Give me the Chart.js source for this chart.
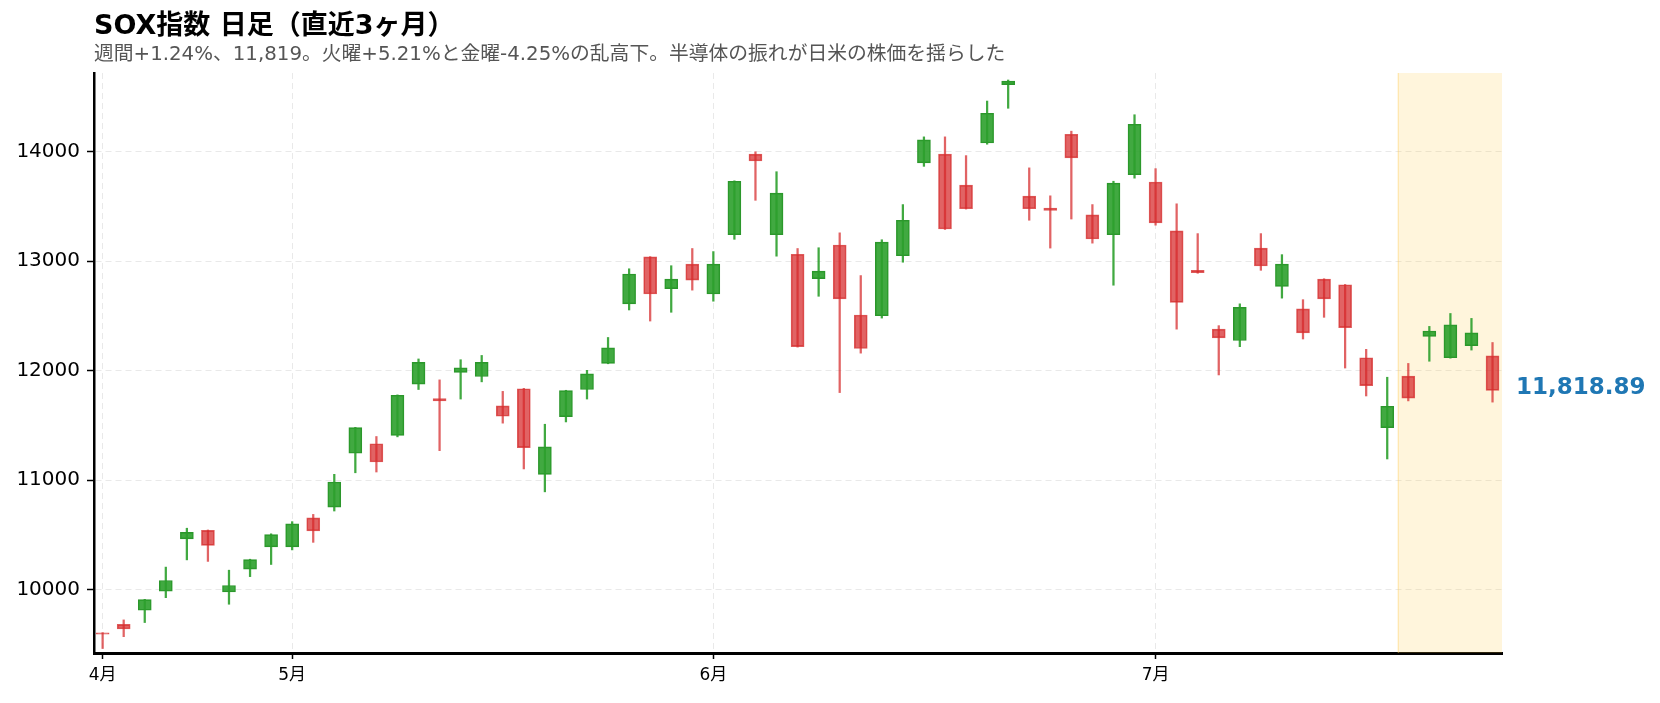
<!DOCTYPE html>
<html lang="ja">
<head>
<meta charset="utf-8">
<title>SOX指数 日足（直近3ヶ月）</title>
<script src="https://cdn.jsdelivr.net/npm/chart.js@4.4.1/dist/chart.umd.min.js"></script>
<style>
  html, body { margin: 0; padding: 0; background: #fff; }
  #wrap { width: 1660px; height: 703px; }
</style>
</head>
<body>
<div id="wrap"><canvas id="chart" width="1660" height="703"></canvas></div>
<script>
// 日足データ（4月〜7月、営業日順）
const opens  = [9606, 9683, 9812, 9986, 10464, 10541, 9979, 10188, 10391, 10391,
                10656, 10753, 11245, 11332, 11409, 11876, 11744, 11984, 11946, 11677,
                11834, 11053, 11580, 11827, 12065, 12609, 13037, 12748, 12971, 12699,
                13240, 13976, 13240, 13062, 12839, 13146, 12507, 12500, 13048, 13895,
                13976, 13693, 14077, 14610, 13592, 13484, 14157, 13421, 13240, 13787,
                13721, 13275, 12915, 12378, 12274, 13118, 12769, 12563, 12835, 12783,
                12117, 11479, 11949, 12312, 12117, 12228, 12134];
const highs  = [9608, 9724, 9912, 10206, 10561, 10545, 10178, 10278, 10510, 10621,
                10687, 11053, 11482, 11398, 11778, 12106, 11915, 12099, 12138, 11810,
                11838, 11510, 11820, 12002, 12302, 12929, 13040, 12957, 13114, 13086,
                13732, 13997, 13815, 13114, 13121, 13257, 12867, 13194, 13515, 14133,
                14133, 13962, 14460, 14652, 13850, 13595, 14185, 13515, 13728, 14335,
                13843, 13522, 13250, 12410, 12609, 13250, 13058, 12647, 12838, 12786,
                12194, 11939, 12065, 12403, 12521, 12476, 12256];
const lows   = [9463, 9571, 9700, 9927, 10272, 10258, 9867, 10119, 10230, 10363,
                10432, 10718, 11067, 11074, 11395, 11827, 11269, 11740, 11897, 11520,
                11102, 10893, 11531, 11740, 12062, 12553, 12452, 12532, 12734, 12633,
                13198, 13554, 13044, 12214, 12678, 11799, 12159, 12479, 12989, 13864,
                13288, 13474, 14066, 14394, 13372, 13118, 13383, 13163, 12779, 13756,
                13327, 12378, 12888, 11960, 12218, 12915, 12661, 12288, 12486, 12023,
                11768, 11193, 11723, 12085, 12113, 12187, 11712];
const closes = [9594, 9641, 9909, 10084, 10523, 10405, 10038, 10275, 10502, 10600,
                10537, 10983, 11479, 11165, 11775, 12075, 11722, 12026, 12075, 11583,
                11297, 11304, 11817, 11970, 12207, 12881, 12699, 12835, 12825, 12971,
                13728, 13913, 13620, 12218, 12908, 12654, 12201, 13173, 13372, 14105,
                13292, 13477, 14349, 14642, 13477, 13462, 13941, 13201, 13711, 14248,
                13348, 12622, 12893, 12298, 12577, 12954, 12971, 12344, 12654, 12392,
                11862, 11674, 11749, 12361, 12417, 12344, 11818.89];

// 月初の目盛り（データ上の位置）とラベル
const monthTickIdx = [0, 9, 29, 50];
const monthTickLabels = ["4月", "5月", "6月", "7月"];
const yTickValues = [10000, 11000, 12000, 13000, 14000];
const highlightFrom = 62; // 直近1週間

const titleText = "SOX指数 日足（直近3ヶ月）";
const subtitleText = "週間+1.24%、11,819。火曜+5.21%と金曜-4.25%の乱高下。半導体の振れが日米の株価を揺らした";

const UP_FILL = "rgba(44,160,44,0.9)";
const UP_LINE = "rgba(44,150,44,1)";
const DOWN_FILL = "rgba(214,39,40,0.72)";
const DOWN_LINE = "rgba(214,50,50,0.8)";

const isUp = opens.map((o, i) => closes[i] >= o);

const bodies = opens.map((o, i) => ({ x: i, y: [Math.min(o, closes[i]), Math.max(o, closes[i])] }));
const wicks = lows.map((l, i) => ({ x: i, y: [l, highs[i]] }));

// 見出し
const headerPlugin = {
  id: "header",
  afterDraw(chart) {
    const ctx = chart.ctx;
    ctx.save();
    ctx.textAlign = "left";
    ctx.textBaseline = "alphabetic";
    ctx.fillStyle = "#000";
    ctx.font = 'bold 27px "DejaVu Sans", "Noto Sans CJK JP"';
    ctx.fillText(titleText, 94, 34);
    ctx.fillStyle = "#555";
    ctx.font = '19.8px "DejaVu Sans", "Noto Sans CJK JP"';
    ctx.fillText(subtitleText, 94, 60);
    ctx.restore();
  }
};

// 直近1週間の帯
const bandPlugin = {
  id: "band",
  beforeDatasetsDraw(chart) {
    const { ctx, chartArea, scales } = chart;
    const x0 = scales.x.getPixelForValue(highlightFrom - 0.5);
    ctx.save();
    ctx.fillStyle = "rgba(255,200,60,0.18)";
    ctx.fillRect(x0, chartArea.top, chartArea.right - x0, chartArea.bottom - chartArea.top);
    ctx.strokeStyle = "rgba(255,205,90,0.45)";
    ctx.lineWidth = 1;
    ctx.beginPath();
    ctx.moveTo(x0 + 0.5, chartArea.top);
    ctx.lineTo(x0 + 0.5, chartArea.bottom);
    ctx.stroke();
    ctx.restore();
  }
};

// 最終値ラベル
const lastLabelPlugin = {
  id: "lastLabel",
  afterDatasetsDraw(chart) {
    const { ctx, chartArea, scales } = chart;
    const last = closes[closes.length - 1];
    const y = scales.y.getPixelForValue(last);
    ctx.save();
    ctx.fillStyle = "#1f77b4";
    ctx.font = 'bold 23px "DejaVu Sans"';
    ctx.textAlign = "left";
    ctx.textBaseline = "middle";
    ctx.fillText(last.toLocaleString("en-US", { minimumFractionDigits: 2 }), chartArea.right + 14, y - 2);
    ctx.restore();
  }
};

new Chart(document.getElementById("chart"), {
  type: "bar",
  data: {
    datasets: [
      {
        label: "実体",
        data: bodies,
        backgroundColor: isUp.map(u => (u ? UP_FILL : DOWN_FILL)),
        borderColor: isUp.map(u => (u ? UP_LINE : DOWN_LINE)),
        borderWidth: 1,
        borderSkipped: false,
        barThickness: 13,
        grouped: false,
        order: 0
      },
      {
        label: "ヒゲ",
        data: wicks,
        backgroundColor: isUp.map(u => (u ? UP_FILL : DOWN_FILL)),
        borderWidth: 0,
        barThickness: 1.6,
        grouped: false,
        order: 1
      }
    ]
  },
  options: {
    responsive: false,
    animation: false,
    devicePixelRatio: 1,
    layout: { padding: { left: 0, right: 158, top: 73, bottom: 0 } },
    plugins: {
      legend: { display: false },
      tooltip: { enabled: false }
    },
    scales: {
      x: {
        type: "linear",
        min: -0.41,
        max: 66.45,
        offset: false,
        afterBuildTicks: s => { s.ticks = monthTickIdx.map(v => ({ value: v })); },
        afterFit: s => { s.height = 50; },
        ticks: {
          callback: v => monthTickLabels[monthTickIdx.indexOf(v)],
          color: "#000",
          font: { family: '"DejaVu Sans", "Noto Sans CJK JP"', size: 17 },
          padding: 6,
          maxRotation: 0,
          autoSkip: false
        },
        grid: { offset: false, color: "#e9e9e9", lineWidth: 1, tickColor: "#000", tickLength: 6, tickWidth: 1.5 },
        border: { color: "#000", width: 3, dash: [6, 4] }
      },
      y: {
        min: 9422,
        max: 14716,
        afterBuildTicks: s => { s.ticks = yTickValues.map(v => ({ value: v })); },
        afterFit: s => { s.width = 94; },
        ticks: {
          callback: v => String(v),
          color: "#000",
          font: { family: '"DejaVu Sans"', size: 20 },
          padding: 7
        },
        grid: { color: "#e9e9e9", lineWidth: 1, tickColor: "#000", tickLength: 7, tickWidth: 1.5 },
        border: { color: "#000", width: 2.5, dash: [6, 4] }
      }
    }
  },
  plugins: [bandPlugin, lastLabelPlugin, headerPlugin]
});
</script>
</body>
</html>
